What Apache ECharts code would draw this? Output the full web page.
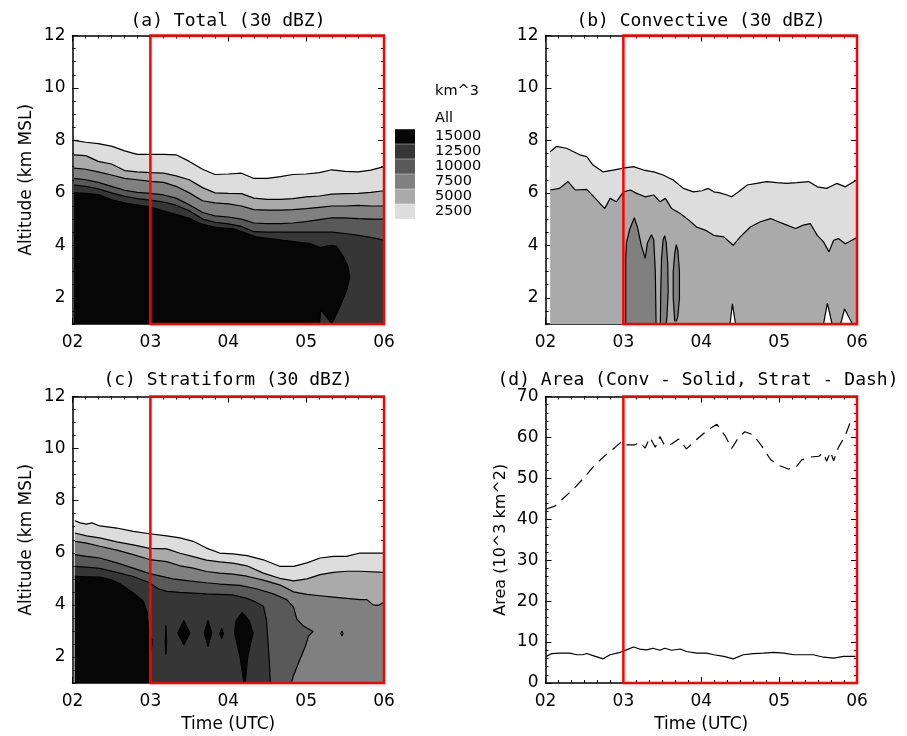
<!DOCTYPE html>
<html><head><meta charset="utf-8">
<script src="https://cdn.jsdelivr.net/npm/echarts@6.0.0/dist/echarts.min.js"></script>
<style>html,body{margin:0;padding:0;background:#fff}#c{width:907px;height:736px}</style>
</head><body><div id="c"></div>
<script>
// ---------------- DATA ----------------
const X_LABELS = ['02', '03', '04', '05', '06'];
const ALT_TICKS = [2, 4, 6, 8, 10, 12];
const LEVELS = ['15000', '12500', '10000', '7500', '5000', '2500'];

// Panel (a) Total: contour boundary altitudes (km) on a common time grid (hours UTC)
const T_A = [2.02, 2.17, 2.33, 2.5, 2.67, 2.83, 3.0, 3.17, 3.33, 3.5, 3.67, 3.83, 4.0, 4.17, 4.33, 4.5, 4.67, 4.83, 5.0, 5.17, 5.33, 5.5, 5.67, 5.83, 6.0];
const A_2500  = [8.0, 7.93, 7.88, 7.78, 7.6, 7.47, 7.47, 7.47, 7.45, 7.2, 6.9, 6.7, 6.72, 6.75, 6.55, 6.55, 6.62, 6.7, 6.72, 6.77, 6.88, 6.82, 6.8, 6.87, 7.0];
const A_5000  = [7.45, 7.42, 7.2, 7.1, 6.85, 6.8, 6.77, 6.75, 6.65, 6.5, 6.2, 6.0, 5.98, 5.97, 5.8, 5.75, 5.75, 5.78, 5.85, 5.88, 5.95, 5.97, 5.98, 6.02, 6.08];
const A_7500  = [6.94, 6.9, 6.8, 6.68, 6.55, 6.5, 6.44, 6.4, 6.25, 6.0, 5.7, 5.62, 5.58, 5.5, 5.36, 5.34, 5.34, 5.36, 5.4, 5.45, 5.5, 5.5, 5.52, 5.5, 5.5];
const A_10000 = [6.55, 6.5, 6.4, 6.25, 6.1, 6.02, 5.98, 5.92, 5.8, 5.55, 5.25, 5.12, 5.08, 5.0, 4.85, 4.83, 4.83, 4.85, 4.9, 4.98, 5.05, 5.05, 5.02, 5.0, 5.0];
const A_12500 = [6.3, 6.25, 6.15, 6.0, 5.87, 5.78, 5.72, 5.65, 5.53, 5.32, 5.0, 4.88, 4.82, 4.72, 4.52, 4.5, 4.5, 4.5, 4.5, 4.5, 4.5, 4.45, 4.38, 4.3, 4.2];
const A_15000 = [[2.02,6.0],[2.18,5.98],[2.35,5.92],[2.52,5.72],[2.69,5.6],[2.99,5.47],[3.29,5.21],[3.51,5.02],[3.64,4.83],[3.85,4.68],[4.06,4.64],[4.36,4.32],[4.71,4.19],[5.05,4.07],[5.18,3.91],[5.31,4.0],[5.39,3.96],[5.48,3.56],[5.54,3.17],[5.56,2.79],[5.52,2.28],[5.43,1.64],[5.35,1.13],[5.33,1.0]];
const A_NOTCH_12500 = [[5.17,1.0],[5.19,1.55],[5.33,1.0]];

// Panel (b) Convective
const B_2500 = [[2.06,7.57],[2.14,7.77],[2.27,7.7],[2.44,7.45],[2.53,7.38],[2.61,7.06],[2.74,6.8],[2.87,6.87],[3.0,6.94],[3.13,7.0],[3.26,6.87],[3.39,6.8],[3.51,6.68],[3.64,6.49],[3.77,6.17],[3.9,6.04],[4.01,6.08],[4.09,6.17],[4.16,6.04],[4.24,6.0],[4.33,5.92],[4.39,5.85],[4.48,6.04],[4.59,6.3],[4.71,6.36],[4.84,6.43],[4.97,6.39],[5.1,6.36],[5.23,6.39],[5.38,6.43],[5.49,6.23],[5.61,6.17],[5.74,6.36],[5.85,6.23],[6.0,6.5]];
const B_5000 = [[2.06,6.11],[2.18,6.17],[2.29,6.43],[2.38,6.11],[2.53,6.13],[2.64,5.79],[2.76,5.4],[2.83,5.79],[2.91,5.66],[3.0,6.04],[3.09,6.11],[3.17,5.98],[3.28,5.85],[3.39,5.92],[3.47,5.66],[3.54,5.79],[3.62,5.4],[3.73,5.21],[3.84,4.96],[3.94,4.7],[4.05,4.58],[4.16,4.38],[4.29,4.32],[4.41,4.0],[4.5,4.32],[4.63,4.7],[4.76,4.9],[4.89,5.02],[4.99,4.9],[5.1,4.77],[5.21,4.64],[5.31,4.77],[5.4,4.83],[5.49,4.38],[5.57,4.13],[5.64,3.75],[5.7,4.19],[5.76,4.26],[5.85,4.06],[6.0,4.3]];
const B_7500_LOBE1 = [[3.03,1],[3.03,3.5],[3.04,4.1],[3.08,4.6],[3.14,5.05],[3.18,4.7],[3.23,4.0],[3.28,3.5],[3.31,4.1],[3.36,4.4],[3.39,4.2],[3.41,3.0],[3.42,1]];
const B_7500_LOBE2 = [[3.475,1],[3.48,2.2],[3.49,3.5],[3.51,4.2],[3.53,4.37],[3.55,4.1],[3.57,3.3],[3.575,2.2],[3.56,1.3],[3.55,1]];
const B_7500_LOBE3 = [[3.66,1.1],[3.64,2.0],[3.64,3.0],[3.66,3.7],[3.68,4.03],[3.7,3.8],[3.72,3.0],[3.72,2.0],[3.7,1.3],[3.68,1.1]];
const B_LOW_1 = [[4.37,1],[4.4,1.77],[4.44,1]];
const B_LOW_2 = [[5.57,1],[5.62,1.8],[5.68,1]];
const B_LOW_3 = [[5.79,1],[5.84,1.58],[5.94,1]];

// Panel (c) Stratiform
const C_2500 = [[2.03,7.23],[2.1,7.15],[2.18,7.1],[2.25,7.15],[2.35,7.03],[2.57,6.95],[2.78,6.82],[2.99,6.73],[3.21,6.65],[3.38,6.57],[3.55,6.44],[3.72,6.18],[3.89,5.99],[4.06,5.96],[4.24,5.89],[4.45,5.73],[4.66,5.48],[4.84,5.48],[5.01,5.61],[5.18,5.8],[5.35,5.86],[5.52,5.86],[5.69,5.99],[6.0,5.99]];
const C_5000 = [[2.03,6.76],[2.18,6.65],[2.35,6.57],[2.57,6.42],[2.78,6.3],[2.99,6.17],[3.21,6.15],[3.38,5.98],[3.55,5.85],[3.72,5.72],[3.89,5.65],[4.06,5.6],[4.24,5.5],[4.45,5.22],[4.66,5.02],[4.84,4.92],[5.01,5.0],[5.18,5.16],[5.35,5.25],[5.52,5.29],[5.69,5.29],[6.0,5.25]];
const C_7500 = [[2.03,6.44],[2.18,6.37],[2.35,6.25],[2.57,6.1],[2.78,5.93],[2.99,5.74],[3.21,5.66],[3.38,5.5],[3.55,5.41],[3.72,5.28],[3.89,5.22],[4.06,5.18],[4.24,5.1],[4.45,4.95],[4.66,4.77],[4.84,4.5],[5.01,4.4],[5.18,4.35],[5.35,4.3],[5.52,4.25],[5.69,4.2],[5.78,4.2],[5.86,4.0],[5.93,3.98],[6.0,4.1]];
const C_10000 = [[2.03,5.93],[2.18,5.86],[2.35,5.8],[2.57,5.61],[2.78,5.41],[2.99,5.2],[3.29,5.0],[3.5,4.92],[3.72,4.85],[3.89,4.8],[4.15,4.75],[4.36,4.62],[4.58,4.42],[4.75,4.2],[4.84,3.9],[4.88,3.45],[4.96,3.2],[5.09,2.98],[5.03,2.8],[4.99,2.4],[4.92,1.9],[4.84,1.3],[4.81,1.0]];
const C_12500 = [[2.03,5.48],[2.18,5.45],[2.35,5.4],[2.57,5.25],[2.78,5.09],[2.99,4.85],[3.1,4.62],[3.21,4.52],[3.38,4.48],[3.55,4.45],[3.72,4.42],[3.89,4.4],[4.06,4.38],[4.24,4.25],[4.36,4.1],[4.45,3.95],[4.49,3.45],[4.51,2.6],[4.53,1.7],[4.54,1.0]];
const C_15000 = [[2.03,5.09],[2.18,5.08],[2.35,5.07],[2.49,4.97],[2.61,4.81],[2.78,4.46],[2.91,4.14],[2.96,3.69],[2.98,2.9],[3.03,2.6],[2.99,2.0],[2.98,1.0]];
const C_ISLANDS = [
  {level: '15000', pts: [[3.2,3.2],[3.21,2.6],[3.2,2.1],[3.19,2.6]]},
  {level: '15000', pts: [[3.43,3.4],[3.51,2.92],[3.43,2.45],[3.35,2.92]]},
  {level: '15000', pts: [[3.74,3.4],[3.79,2.92],[3.74,2.4],[3.69,2.92]]},
  {level: '15000', pts: [[3.915,3.1],[3.94,2.9],[3.915,2.7],[3.89,2.9]]},
  {level: '15000', pts: [[4.18,3.72],[4.27,3.4],[4.32,2.92],[4.25,2.0],[4.22,1.0],[4.2,1.0],[4.15,2.0],[4.08,2.92],[4.1,3.4]]},
  {level: '10000', pts: [[5.46,3.0],[5.475,2.9],[5.46,2.8],[5.445,2.9]]}
];

// Panel (d) Area (10^3 km^2)
const D_CONV = [[2.01,6.5],[2.08,7.2],[2.18,7.3],[2.31,7.3],[2.4,6.9],[2.48,6.9],[2.53,7.2],[2.61,6.7],[2.74,5.9],[2.83,6.9],[2.96,7.5],[3.04,8.1],[3.13,8.8],[3.21,8.3],[3.3,8.1],[3.38,8.5],[3.47,8.0],[3.53,8.5],[3.62,8.0],[3.73,8.3],[3.81,7.7],[3.94,7.3],[4.07,7.3],[4.16,6.9],[4.29,6.5],[4.41,5.9],[4.54,6.9],[4.67,7.2],[4.8,7.3],[4.93,7.5],[5.06,7.3],[5.19,6.9],[5.31,6.9],[5.44,6.9],[5.57,6.3],[5.7,6.1],[5.83,6.5],[5.98,6.5]];
const D_STRAT = [[2.01,42.5],[2.12,43.2],[2.25,45.5],[2.38,47.8],[2.51,50.5],[2.63,53.2],[2.76,55.5],[2.89,57.5],[2.98,59],[3.04,58.2],[3.15,58.2],[3.21,58.8],[3.28,57.4],[3.34,60],[3.41,57.6],[3.47,60.2],[3.53,58],[3.62,58.4],[3.71,59.6],[3.81,57.2],[3.94,59.5],[4.07,61.6],[4.2,63.2],[4.31,60.3],[4.39,57.3],[4.48,60],[4.56,61.4],[4.67,60.6],[4.78,57.8],[4.89,54.6],[4.99,53.2],[5.12,52.3],[5.21,52.6],[5.29,54.5],[5.4,55.2],[5.51,55.4],[5.57,56.2],[5.61,54.2],[5.66,56.5],[5.7,54.3],[5.76,57.5],[5.85,60.5],[5.91,63.5],[5.98,62.8]];

// ---------------- STYLE ----------------
const FONT = 'DejaVu Sans';
const TFONT = 'DejaVu Sans Mono';
const COLORS = {'15000':'#060606','12500':'#363636','10000':'#595959','7500':'#808080','5000':'#aaaaaa','2500':'#dddddd','0':'#ffffff'};
const GRIDS = [
  {left: 72.5, top: 35.5, width: 311.5, height: 288.5},
  {left: 545.5, top: 35.5, width: 311.5, height: 288.5},
  {left: 72.5, top: 396.5, width: 311.5, height: 286.5},
  {left: 545.5, top: 396.5, width: 311.5, height: 286.5}
];
const AX_LINE = {color: '#000', width: 1.5};
const TICK = {color: '#000', width: 1};
const LBL = {color: '#000', fontSize: 17, fontFamily: FONT};

const zipT = (t, v) => t.map((x, i) => [x, v[i]]);

// ---------------- AXES ----------------
const xAxes = [];
GRIDS.forEach((g, gi) => {
  const base = {
    gridIndex: gi, type: 'value', min: 2, max: 6, interval: 1,
    axisLine: {onZero: false, lineStyle: AX_LINE},
    axisTick: {inside: true, length: 6, lineStyle: TICK},
    minorTick: {show: true, splitNumber: 6, length: 3, lineStyle: TICK},
    splitLine: {show: false}, minorSplitLine: {show: false}
  };
  xAxes.push(Object.assign({}, base, {
    position: 'bottom',
    axisLabel: Object.assign({margin: 10, formatter: v => X_LABELS[Math.round(v) - 2]}, LBL),
    name: gi >= 2 ? 'Time (UTC)' : '', nameLocation: 'middle', nameGap: 33,
    nameTextStyle: {color: '#000', fontSize: 17, fontFamily: FONT}
  }));
  xAxes.push(Object.assign({}, base, {position: 'top', axisLabel: {show: false}}));
});

const yAxes = [];
[0, 1, 2].forEach(gi => {
  const major = {
    gridIndex: gi, type: 'value', min: 1, max: 12,
    axisLine: {show: true, onZero: false, lineStyle: AX_LINE},
    axisTick: {show: true, inside: true, length: 6, customValues: ALT_TICKS, lineStyle: TICK},
    splitLine: {show: false}
  };
  const minor = {
    gridIndex: gi, type: 'value', min: 1, max: 12, interval: 0.5,
    axisLine: {show: false}, axisLabel: {show: false},
    axisTick: {show: true, inside: true, length: 3, lineStyle: TICK},
    splitLine: {show: false}
  };
  yAxes.push(Object.assign({}, major, {
    position: 'left',
    axisLabel: Object.assign({margin: 7, customValues: ALT_TICKS, formatter: v => String(v)}, LBL),
    name: gi === 1 ? '' : 'Altitude (km MSL)', nameLocation: 'middle', nameGap: 37, nameRotate: 90,
    nameTextStyle: {color: '#000', fontSize: 17, fontFamily: FONT}
  }));
  yAxes.push(Object.assign({}, minor, {position: 'left'}));
  yAxes.push(Object.assign({}, major, {position: 'right', axisLabel: {show: false}}));
  yAxes.push(Object.assign({}, minor, {position: 'right'}));
});
const dY = {
  gridIndex: 3, type: 'value', min: 0, max: 70, interval: 10,
  axisLine: {show: true, onZero: false, lineStyle: AX_LINE},
  axisTick: {show: true, inside: true, length: 6, lineStyle: TICK},
  minorTick: {show: true, splitNumber: 5, length: 3, lineStyle: TICK},
  splitLine: {show: false}, minorSplitLine: {show: false}
};
yAxes.push(Object.assign({}, dY, {
  position: 'left', axisLabel: Object.assign({margin: 7}, LBL),
  name: 'Area (10^3 km^2)', nameLocation: 'middle', nameGap: 37, nameRotate: 90,
  nameTextStyle: {color: '#000', fontSize: 16, fontFamily: FONT}
}));
yAxes.push(Object.assign({}, dY, {position: 'right', axisLabel: {show: false}}));

const XI = gi => gi * 2;
const YI = gi => gi < 3 ? gi * 4 : 12;

// ---------------- SERIES ----------------
const series = [];
function fill(gi, level, data, z) {
  series.push({
    type: 'line', name: level, xAxisIndex: XI(gi), yAxisIndex: YI(gi), data,
    symbol: 'none', silent: true, z: z || 2,
    lineStyle: {width: 0, color: COLORS[level]}, itemStyle: {color: COLORS[level]},
    areaStyle: {color: COLORS[level], opacity: 1, origin: 'start'}
  });
}
function contour(gi, data) {
  series.push({
    type: 'line', xAxisIndex: XI(gi), yAxisIndex: YI(gi), data,
    symbol: 'none', silent: true, z: 4,
    lineStyle: {width: 1.2, color: '#000'}
  });
}
function redBox(gi, yMin, yMax) {
  series.push({
    type: 'line', xAxisIndex: XI(gi), yAxisIndex: YI(gi), data: [], z: 8, silent: true,
    markArea: {silent: true, z: 8,
      itemStyle: {color: 'rgba(0,0,0,0)', borderColor: '#ff0000', borderWidth: 2.5},
      data: [[{xAxis: 3, yAxis: yMin}, {xAxis: 6, yAxis: yMax}]]}
  });
}

// (a)
const aLines = [['2500', zipT(T_A, A_2500)], ['5000', zipT(T_A, A_5000)], ['7500', zipT(T_A, A_7500)],
  ['10000', zipT(T_A, A_10000)], ['12500', zipT(T_A, A_12500)], ['15000', A_15000]];
aLines.forEach(([lv, d]) => fill(0, lv, d));
fill(0, '12500', A_NOTCH_12500, 3);
aLines.forEach(([lv, d]) => contour(0, d));
contour(0, A_NOTCH_12500);
redBox(0, 1, 12);

// (b)
fill(1, '2500', B_2500);
fill(1, '5000', B_5000);
[B_7500_LOBE1, B_7500_LOBE2, B_7500_LOBE3].forEach(d => fill(1, '7500', d, 3));
[B_LOW_1, B_LOW_2, B_LOW_3].forEach(d => fill(1, '0', d, 3));
[B_2500, B_5000, B_7500_LOBE1, B_7500_LOBE2, B_7500_LOBE3, B_LOW_1, B_LOW_2, B_LOW_3].forEach(d => contour(1, d));
redBox(1, 1, 12);

// (c)
const cLines = [['2500', C_2500], ['5000', C_5000], ['7500', C_7500], ['10000', C_10000], ['12500', C_12500], ['15000', C_15000]];
cLines.forEach(([lv, d]) => fill(2, lv, d));
series.push({
  type: 'custom', coordinateSystem: 'cartesian2d', xAxisIndex: XI(2), yAxisIndex: YI(2), z: 3, silent: true,
  data: C_ISLANDS.map((_, i) => [i]),
  renderItem: (params, api) => {
    const isl = C_ISLANDS[params.dataIndex];
    return {type: 'polygon', shape: {points: isl.pts.map(p => api.coord(p))},
      style: {fill: COLORS[isl.level], stroke: '#000', lineWidth: 1}};
  }
});
cLines.forEach(([lv, d]) => contour(2, d));
redBox(2, 1, 12);

// (d)
series.push({type: 'line', name: 'Conv', xAxisIndex: XI(3), yAxisIndex: YI(3), data: D_CONV, symbol: 'none', silent: true, z: 4,
  lineStyle: {color: '#000', width: 1.2, type: 'solid'}});
series.push({type: 'line', name: 'Strat', xAxisIndex: XI(3), yAxisIndex: YI(3), data: D_STRAT, symbol: 'none', silent: true, z: 4,
  lineStyle: {color: '#000', width: 1.2, type: [11, 7]}});
redBox(3, 0, 70);

// ---------------- CHART ----------------
const titleStyle = {color: '#000', fontSize: 18, fontWeight: 'normal', fontFamily: TFONT};
const option = {
  animation: false,
  backgroundColor: '#fff',
  title: [
    {text: '(a) Total (30 dBZ)', left: 228, top: 12, textAlign: 'center', padding: 0, textStyle: titleStyle},
    {text: '(b) Convective (30 dBZ)', left: 701, top: 12, textAlign: 'center', padding: 0, textStyle: titleStyle},
    {text: '(c) Stratiform (30 dBZ)', left: 228, top: 371, textAlign: 'center', padding: 0, textStyle: titleStyle},
    {text: '(d) Area (Conv - Solid, Strat - Dash)', left: 698, top: 371, textAlign: 'center', padding: 0, textStyle: titleStyle}
  ],
  legend: {
    data: LEVELS.map(l => ({name: l, icon: 'rect', itemStyle: {color: COLORS[l], borderWidth: 0}})),
    orient: 'vertical', left: 395, top: 129, padding: 0,
    itemWidth: 20, itemHeight: 14.6, itemGap: 0, selectedMode: false,
    textStyle: {color: '#000', fontSize: 14.5, fontFamily: FONT, lineHeight: 14.6, padding: [0, 0, 0, 15]}
  },
  graphic: [
    {type: 'text', x: 435, y: 91, style: {text: 'km^3', fill: '#000', font: '14.5px "DejaVu Sans"', verticalAlign: 'middle'}},
    {type: 'text', x: 435, y: 118, style: {text: 'All', fill: '#000', font: '14.5px "DejaVu Sans"', verticalAlign: 'middle'}}
  ],
  grid: GRIDS,
  xAxis: xAxes,
  yAxis: yAxes,
  series
};
const chart = echarts.init(document.getElementById('c'), null, {renderer: 'canvas'});
chart.setOption(option);
</script></body></html>
